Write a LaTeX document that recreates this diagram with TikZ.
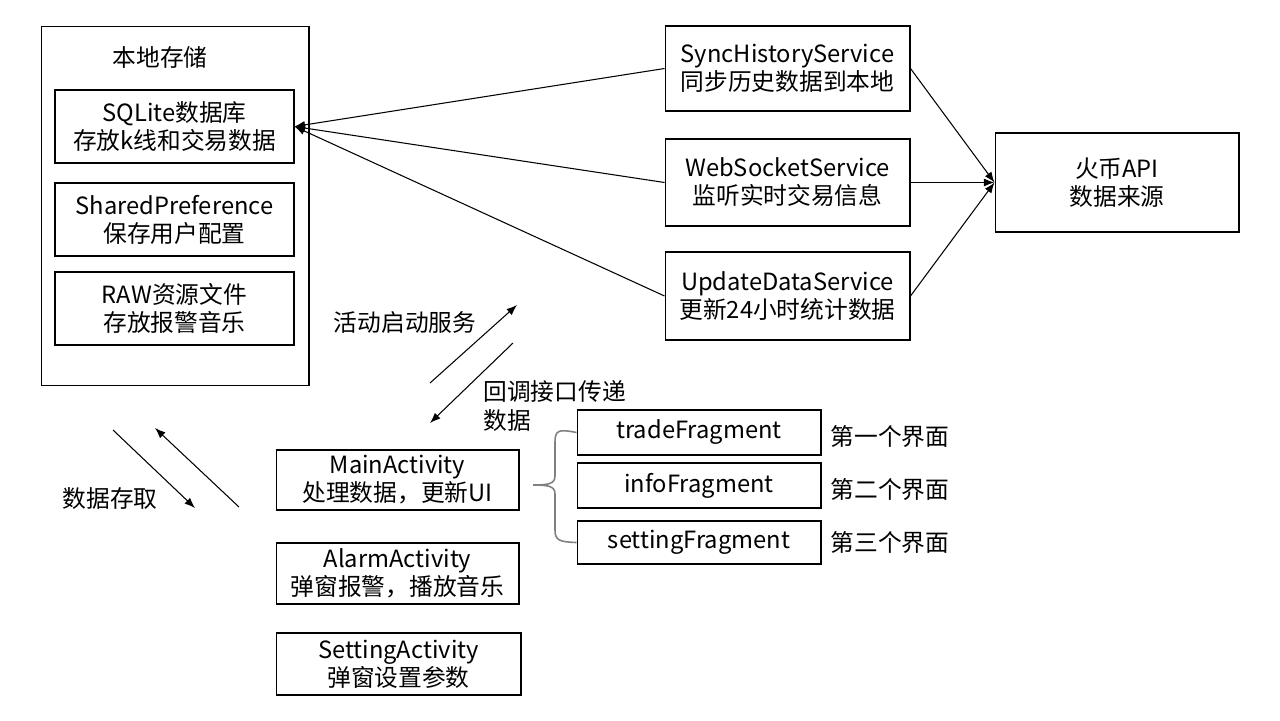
\documentclass[tikz,border=0pt]{standalone}
\usepackage{fontspec}
\setmainfont{Noto Sans CJK SC}
\usetikzlibrary{arrows.meta}

\begin{document}
\begin{tikzpicture}[x=0.02cm, y=-0.02cm, line width=0.6pt,
  box/.style={draw, align=center, inner sep=0pt, font=\fontsize{13.5}{16}\selectfont},
  txt/.style={inner sep=0pt, font=\fontsize{13.5}{16}\selectfont},
  arr/.style={-{Latex[length=6pt, width=4.5pt]}},
  bracepath/.style={draw=gray, line width=0.9pt}]
\useasboundingbox (0,0) rectangle (1280,720);
% local storage
\node[box, minimum width=5.36cm, minimum height=7.2cm] (store) at (175,206) {};
\node[txt] (storetitle) at (160,57) {本地存储};
\node[box, minimum width=4.78cm, minimum height=1.46cm] (sql) at (174.5,126.5) {SQLite数据库\\存放k线和交易数据};
\node[box, minimum width=4.78cm, minimum height=1.46cm] (shared) at (174.5,219.5) {SharedPreference\\保存用户配置};
\node[box, minimum width=4.78cm, minimum height=1.46cm] (raw) at (174.5,308.5) {RAW资源文件\\存放报警音乐};
% services
\node[box, minimum width=4.9cm, minimum height=1.7cm] (sync) at (787.5,68.5) {SyncHistoryService\\同步历史数据到本地};
\node[box, minimum width=4.9cm, minimum height=1.74cm] (ws) at (787.5,182.5) {WebSocketService\\监听实时交易信息};
\node[box, minimum width=4.9cm, minimum height=1.76cm] (upd) at (787.5,296) {UpdateDataService\\更新24小时统计数据};
\node[box, minimum width=4.88cm, minimum height=1.98cm] (api) at (1117,182.5) {火币API\\数据来源};
% activities
\node[box, minimum width=4.86cm, minimum height=1.2cm] (main) at (397.5,480) {MainActivity\\处理数据，更新UI};
\node[box, minimum width=4.86cm, minimum height=1.22cm] (alarm) at (397.5,573.5) {AlarmActivity\\弹窗报警，播放音乐};
\node[box, minimum width=4.9cm, minimum height=1.24cm] (setting) at (398.5,664) {SettingActivity\\弹窗设置参数};
% fragments
\node[box, minimum width=4.88cm, minimum height=0.9cm] (trade) at (699,432.5) {tradeFragment};
\node[box, minimum width=4.88cm, minimum height=0.9cm] (info) at (699,485.5) {infoFragment};
\node[box, minimum width=4.88cm, minimum height=0.86cm] (setfrag) at (699,542.5) {settingFragment};
\node[txt] (first) at (890,436) {第一个界面};
\node[txt] (second) at (890,489) {第二个界面};
\node[txt] (third) at (890,542) {第三个界面};
% labels
\node[txt] (start) at (405,322) {活动启动服务};
\node[txt, align=left, anchor=west] (callback) at (483,406) {回调接口传递\\数据};
\node[txt] (access) at (110,499) {数据存取};
% connectors
\draw[arr] (sync.west) -- (sql.east);
\draw[arr] (ws.west) -- (sql.east);
\draw[arr] (upd.west) -- (sql.east);
\draw[arr] (sync.east) -- (api.west);
\draw[arr] (ws.east) -- (api.west);
\draw[arr] (upd.east) -- (api.west);
\coordinate (s1) at (430,383);
\coordinate (e1) at (517,305);
\coordinate (s2) at (513,343);
\coordinate (e2) at (430,423);
\coordinate (s3) at (113,430);
\coordinate (e3) at (195,508);
\coordinate (s4) at (239,507);
\coordinate (e4) at (155,428);
\draw[arr] (s1) -- (e1);
\draw[arr] (s2) -- (e2);
\draw[arr] (s3) -- (e3);
\draw[arr] (s4) -- (e4);
% brace
\coordinate (tip) at (533,485);
\draw[bracepath] (trade.west) .. controls (559,429) and (555,430) .. (555,442) -- (555,476) .. controls (555,484) and (548,485) .. (tip);
\draw[bracepath] (setfrag.west) .. controls (559,542) and (555,540) .. (555,530) -- (555,494) .. controls (555,486) and (548,485) .. (tip);
\end{tikzpicture}
\end{document}
